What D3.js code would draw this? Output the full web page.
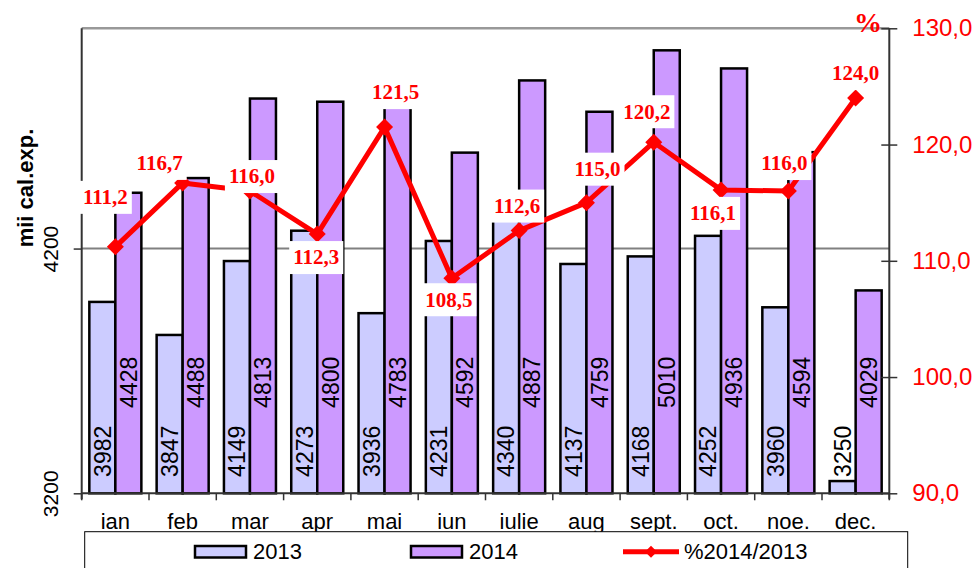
<!DOCTYPE html>
<html>
<head>
<meta charset="utf-8">
<script src="https://cdn.jsdelivr.net/npm/d3@7"></script>
<style>
  html, body { margin: 0; padding: 0; background: #fff; }
  svg { display: block; }
</style>
</head>
<body>
<svg id="chart" width="978" height="568"></svg>
<script>
const width = 978;
const height = 568;
const sansFont = `Arial, "Liberation Sans", sans-serif`;
const serifFont = `"Times New Roman", "Liberation Serif", serif`;

const months = ["ian", "feb", "mar", "apr", "mai", "iun", "iulie", "aug", "sept.", "oct.", "noe.", "dec."];
const values2013 = [3982, 3847, 4149, 4273, 3936, 4231, 4340, 4137, 4168, 4252, 3960, 3250];
const values2014 = [4428, 4488, 4813, 4800, 4783, 4592, 4887, 4759, 5010, 4936, 4594, 4029];
const ratio = [111.2, 116.7, 116.0, 112.3, 121.5, 108.5, 112.6, 115.0, 120.2, 116.1, 116.0, 124.0];
const leftTicks = [3200, 4200];
const rightTicks = [90, 100, 110, 120, 130];
const seriesNames = ["2013", "2014"];

// hand placed label nudges, like the original sheet
const labelDx = [-10, -23, 2, -1, 11, -3, -2, 11, -7, -8, -4, 0];
const labelDy = [-50, -20, -15, 23, -35, 21, -25, -34, -31, 23, -28, -25];

const colors = { "2013": "#CCCCFF", "2014": "#CC99FF" };
const red = "#FF0000";

const plot = { left: 81.7, right: 889.3, top: 28.3, bottom: 493.3 };

const comma = d3.formatLocale({ decimal: ",", thousands: ".", grouping: [3], currency: ["", ""] });
const fmt1 = comma.format(".1f");

const svg = d3.select("#chart");

const x = d3.scaleBand()
  .domain(months)
  .range([plot.left, plot.right])
  .paddingInner(0.227)
  .paddingOuter(0.1135);

const xSub = d3.scaleBand()
  .domain(seriesNames)
  .range([0, x.bandwidth()]);

const yLeft = d3.scaleLinear().domain([3200, 5100]).range([plot.bottom, plot.top]);
const yRight = d3.scaleLinear().domain([90, 130]).range([plot.bottom, plot.top]);

const rows = months.map((m, i) => ({
  month: m,
  bars: [
    { key: "2013", value: values2013[i] },
    { key: "2014", value: values2014[i] },
  ],
  ratio: ratio[i],
  i,
}));

// grid + frame
svg.append("line")
  .attr("x1", plot.left).attr("x2", plot.right)
  .attr("y1", yLeft(4200)).attr("y2", yLeft(4200))
  .attr("stroke", "#808080").attr("stroke-width", 2);

svg.append("line")
  .attr("x1", plot.left).attr("x2", plot.right)
  .attr("y1", plot.top).attr("y2", plot.top)
  .attr("stroke", "#999").attr("stroke-width", 2.5);

// bars
const groups = svg.append("g")
  .selectAll(".month")
  .data(rows)
  .enter()
  .append("g")
  .attr("class", "month")
  .attr("transform", (d) => `translate(${x(d.month)},0)`);

groups.selectAll("rect")
  .data((d) => d.bars)
  .enter()
  .append("rect")
  .attr("x", (d) => xSub(d.key))
  .attr("y", (d) => yLeft(d.value))
  .attr("width", xSub.bandwidth())
  .attr("height", (d) => yLeft(3200) - yLeft(d.value))
  .attr("fill", (d) => colors[d.key])
  .attr("stroke", "#000")
  .attr("stroke-width", 2.5);

// value labels sit at a fixed height, rotated
const barLabelLift = { "2013": 42, "2014": 111 };
groups.selectAll("text")
  .data((d) => d.bars)
  .enter()
  .append("text")
  .attr("transform", (d) => {
    const cx = xSub(d.key) + xSub.bandwidth() / 2;
    const cy = plot.bottom - barLabelLift[d.key];
    return `translate(${cx},${cy}) rotate(-90)`;
  })
  .attr("text-anchor", "middle")
  .attr("dy", "0.36em")
  .attr("font-family", sansFont)
  .attr("font-size", 23)
  .attr("fill", "#000")
  .text((d) => d.value);

// left axis
const leftAxis = svg.append("g")
  .attr("transform", `translate(${plot.left},0)`)
  .call(d3.axisLeft(yLeft).tickValues(leftTicks).tickSize(8).tickFormat(d3.format("d")));
leftAxis.select(".domain")
  .attr("d", `M0,${plot.top}V${plot.bottom + 6}`)
  .attr("stroke", "#333").attr("stroke-width", 2);
leftAxis.selectAll(".tick line").attr("stroke", "#333").attr("stroke-width", 1.5);
leftAxis.selectAll(".tick text")
  .attr("x", null).attr("dy", null)
  .attr("transform", `translate(${58 - plot.left},0) rotate(-90)`)
  .attr("text-anchor", "middle")
  .attr("font-family", sansFont)
  .attr("font-size", 21)
  .attr("fill", "#000");

svg.append("text")
  .attr("transform", `translate(33,188) rotate(-90)`)
  .attr("text-anchor", "middle")
  .attr("font-family", sansFont)
  .attr("font-weight", "bold")
  .attr("font-size", 22)
  .text("mii cal.exp.");

// right axis
const rightAxis = svg.append("g")
  .attr("transform", `translate(${plot.right},0)`)
  .call(d3.axisRight(yRight).tickValues(rightTicks).tickSize(8).tickFormat(fmt1));
rightAxis.select(".domain")
  .attr("d", `M0,${plot.top}V${plot.bottom + 6}`)
  .attr("stroke", "#333").attr("stroke-width", 2);
rightAxis.selectAll(".tick line")
  .attr("x1", -8).attr("x2", 8)
  .attr("stroke", "#333").attr("stroke-width", 1.5);
rightAxis.selectAll(".tick text")
  .attr("x", 23)
  .attr("font-family", sansFont)
  .attr("font-size", 24)
  .attr("fill", red);

svg.append("text")
  .attr("x", 868).attr("y", 32)
  .attr("text-anchor", "middle")
  .attr("font-family", serifFont)
  .attr("font-weight", "bold")
  .attr("font-size", 28)
  .attr("fill", red)
  .text("%");

// bottom axis: ticks on band edges
const edges = d3.range(months.length + 1).map((i) => plot.left + i * x.step());
svg.append("line")
  .attr("x1", plot.left).attr("x2", plot.right)
  .attr("y1", plot.bottom).attr("y2", plot.bottom)
  .attr("stroke", "#333").attr("stroke-width", 2);
svg.append("g")
  .selectAll("line")
  .data(edges)
  .enter()
  .append("line")
  .attr("x1", (d) => d).attr("x2", (d) => d)
  .attr("y1", plot.bottom).attr("y2", plot.bottom + 7)
  .attr("stroke", "#333").attr("stroke-width", 1.5);
svg.append("g")
  .selectAll("text")
  .data(months)
  .enter()
  .append("text")
  .attr("x", (d) => x(d) + x.bandwidth() / 2)
  .attr("y", 529)
  .attr("text-anchor", "middle")
  .attr("font-family", sansFont)
  .attr("font-size", 22)
  .text((d) => d);

// ratio line
const line = d3.line()
  .x((d) => x(d.month) + x.bandwidth() / 2)
  .y((d) => yRight(d.ratio));

svg.append("path")
  .datum(rows)
  .attr("d", line)
  .attr("fill", "none")
  .attr("stroke", red)
  .attr("stroke-width", 5)
  .attr("stroke-linejoin", "round");

const diamond = "M0,-8.5L8.5,0L0,8.5L-8.5,0Z";
svg.append("g")
  .selectAll("path")
  .data(rows)
  .enter()
  .append("path")
  .attr("d", diamond)
  .attr("transform", (d) => `translate(${x(d.month) + x.bandwidth() / 2},${yRight(d.ratio)})`)
  .attr("fill", red);

// ratio labels with white boxes
const ratioLabels = svg.append("g")
  .selectAll("g")
  .data(rows)
  .enter()
  .append("g")
  .attr("transform", (d) => {
    const px = x(d.month) + x.bandwidth() / 2 + labelDx[d.i];
    const py = yRight(d.ratio) + labelDy[d.i];
    return `translate(${px},${py})`;
  });

ratioLabels.append("text")
  .attr("text-anchor", "middle")
  .attr("dy", "0.35em")
  .attr("font-family", serifFont)
  .attr("font-weight", "bold")
  .attr("font-size", 21)
  .attr("fill", red)
  .text((d) => fmt1(d.ratio));

ratioLabels.each(function () {
  const g = d3.select(this);
  const box = g.select("text").node().getBBox();
  g.insert("rect", "text")
    .attr("x", box.x - 4)
    .attr("y", -16)
    .attr("width", box.width + 8)
    .attr("height", 33)
    .attr("fill", "#fff");
});

// legend
const legend = svg.append("g").attr("font-family", sansFont).attr("font-size", 22);
legend.append("rect")
  .attr("x", 84.7).attr("y", 531.7)
  .attr("width", 823).attr("height", 60)
  .attr("fill", "#fff")
  .attr("stroke", "#000").attr("stroke-width", 1);

const swatchX = [195, 411];
seriesNames.forEach((name, i) => {
  legend.append("rect")
    .attr("x", swatchX[i]).attr("y", 546)
    .attr("width", 51).attr("height", 11.5)
    .attr("fill", colors[name])
    .attr("stroke", "#000").attr("stroke-width", 2.5);
  legend.append("text")
    .attr("x", swatchX[i] + 58).attr("y", 559)
    .text(name);
});

legend.append("line")
  .attr("x1", 623).attr("x2", 679)
  .attr("y1", 551.7).attr("y2", 551.7)
  .attr("stroke", red).attr("stroke-width", 5);
legend.append("path")
  .attr("d", "M0,-6L6,0L0,6L-6,0Z")
  .attr("transform", "translate(651,551.7)")
  .attr("fill", red);
legend.append("text")
  .attr("x", 684).attr("y", 559)
  .text("%2014/2013");
</script>
</body>
</html>
